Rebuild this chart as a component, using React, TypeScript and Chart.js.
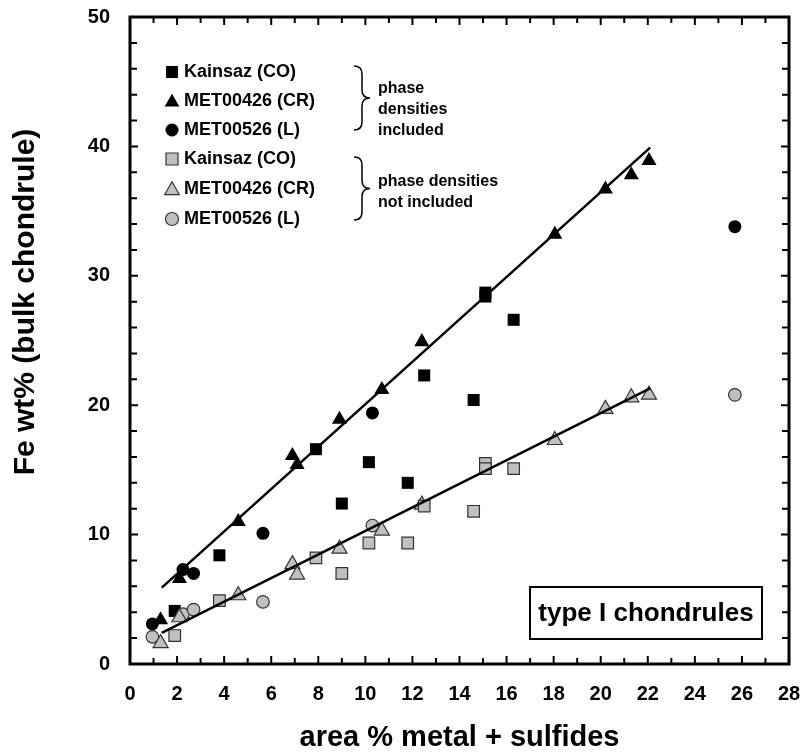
import React, { useEffect, useRef } from 'react';
import { Chart, registerables } from 'chart.js';
Chart.register(...registerables);

// ---- data ----
const kainsazX = [1.9, 3.8, 7.9, 9.0, 10.15, 11.8, 12.5, 14.6, 15.1, 15.1, 16.3];
const kainsazIncl = [4.1, 8.4, 16.6, 12.4, 15.6, 14.0, 22.3, 20.4, 28.7, 28.4, 26.6];
const kainsazNot = [2.2, 4.9, 8.2, 7.0, 9.35, 9.35, 12.2, 11.8, 15.5, 15.1, 15.1];

const met426X = [1.3, 2.1, 4.6, 6.9, 7.1, 8.9, 10.7, 12.4, 18.05, 20.2, 21.3, 22.05];
const met426Incl = [3.4, 6.6, 11.0, 16.1, 15.4, 18.9, 21.2, 24.9, 33.2, 36.7, 37.8, 38.9];
const met426Not = [1.6, 3.6, 5.3, 7.7, 6.9, 8.9, 10.3, 12.3, 17.3, 19.7, 20.6, 20.8];

const met526X = [0.95, 2.25, 2.7, 5.65, 10.3, 25.7];
const met526Incl = [3.1, 7.3, 7.0, 10.1, 19.4, 33.8];
const met526Not = [2.1, 3.85, 4.2, 4.8, 10.7, 20.8];

const fitX = [1.35, 22.1];
const fitInclY = [5.9, 39.9];
const fitNotY = [2.4, 21.3];

const seriesNames = ['Kainsaz (CO)', 'MET00426 (CR)', 'MET00526 (L)'];
const groupNotes = [
  ['phase', 'densities', 'included'],
  ['phase densities', 'not included'],
];
const boxLabel = 'type I chondrules';
const xTitle = 'area % metal + sulfides';
const yTitle = 'Fe wt% (bulk chondrule)';
const xMin = 0, xMax = 28, xStep = 2;
const yMin = 0, yMax = 50, yStep = 10;

const FONT = "'Liberation Sans', Arial, Helvetica, sans-serif";
const GRAY = '#c0c0c0';
const GRAY_EDGE = '#333333';

const pts = (xs: number[], ys: number[]) => xs.map((x, i) => ({ x, y: ys[i] }));

function drawMarker(ctx: CanvasRenderingContext2D, style: string, x: number, y: number, fill: string, stroke: string | null) {
  ctx.save();
  ctx.beginPath();
  if (style === 'rect') {
    const s = 6;
    ctx.rect(x - s, y - s, 2 * s, 2 * s);
  } else if (style === 'triangle') {
    const r = 8.5;
    ctx.moveTo(x, y - r * 0.85);
    ctx.lineTo(x + r * 0.866, y + r * 0.65);
    ctx.lineTo(x - r * 0.866, y + r * 0.65);
    ctx.closePath();
  } else {
    ctx.arc(x, y, 6.5, 0, Math.PI * 2);
  }
  ctx.fillStyle = fill;
  ctx.fill();
  if (stroke) {
    ctx.strokeStyle = stroke;
    ctx.lineWidth = 1.2;
    ctx.stroke();
  }
  ctx.restore();
}

function drawBrace(ctx: CanvasRenderingContext2D, x: number, y1: number, y2: number) {
  const ym = (y1 + y2) / 2;
  const w = 8;
  ctx.save();
  ctx.strokeStyle = '#000';
  ctx.lineWidth = 1.5;
  ctx.beginPath();
  ctx.moveTo(x - w, y1);
  ctx.quadraticCurveTo(x, y1, x, y1 + w);
  ctx.lineTo(x, ym - w);
  ctx.quadraticCurveTo(x, ym, x + w, ym);
  ctx.quadraticCurveTo(x, ym, x, ym + w);
  ctx.lineTo(x, y2 - w);
  ctx.quadraticCurveTo(x, y2, x - w, y2);
  ctx.stroke();
  ctx.restore();
}

const decorPlugin = {
  id: 'decor',
  afterDatasetsDraw(chart: any) {
    const ctx: CanvasRenderingContext2D = chart.ctx;
    const { left, right, top, bottom } = chart.chartArea;
    const xs = chart.scales.x;
    const ys = chart.scales.y;
    ctx.save();
    // frame
    ctx.strokeStyle = '#000';
    ctx.lineWidth = 3;
    ctx.strokeRect(left, top, right - left, bottom - top);
    // ticks inward
    ctx.lineWidth = 2;
    ctx.beginPath();
    for (let v = xMin + 1; v < xMax; v += 1) {
      const px = xs.getPixelForValue(v);
      const len = v % 2 === 0 ? 8 : 6;
      ctx.moveTo(px, bottom);
      ctx.lineTo(px, bottom - len);
      ctx.moveTo(px, top);
      ctx.lineTo(px, top + len);
    }
    for (let v = yMin + 2; v < yMax; v += 2) {
      const py = ys.getPixelForValue(v);
      const len = v % 10 === 0 ? 8 : 7;
      ctx.moveTo(left, py);
      ctx.lineTo(left + len, py);
      ctx.moveTo(right, py);
      ctx.lineTo(right - len, py);
    }
    ctx.stroke();

    // legend
    const styles = ['rect', 'triangle', 'circle'];
    const rowY = [72, 101, 130, 159, 189, 219];
    ctx.font = `bold 18px ${FONT}`;
    ctx.textBaseline = 'middle';
    ctx.textAlign = 'left';
    ctx.fillStyle = '#000';
    for (let g = 0; g < 2; g++) {
      for (let i = 0; i < 3; i++) {
        const y = rowY[g * 3 + i];
        drawMarker(ctx, styles[i], 172, y, g === 0 ? '#000' : GRAY, g === 0 ? null : GRAY_EDGE);
        ctx.fillStyle = '#000';
        ctx.fillText(seriesNames[i], 184, y);
      }
    }
    drawBrace(ctx, 362, 66, 130);
    drawBrace(ctx, 362, 157, 220);
    ctx.font = `bold 16px ${FONT}`;
    ctx.fillText(groupNotes[0][0], 378, 89);
    ctx.fillText(groupNotes[0][1], 378, 110);
    ctx.fillText(groupNotes[0][2], 378, 131);
    ctx.fillText(groupNotes[1][0], 378, 182);
    ctx.fillText(groupNotes[1][1], 378, 203);

    // type I box
    ctx.lineWidth = 2;
    ctx.strokeRect(530, 587, 232, 52);
    ctx.font = `bold 26px ${FONT}`;
    ctx.textAlign = 'center';
    ctx.fillText(boxLabel, 646, 614);

    // axis titles
    ctx.font = `bold 29px ${FONT}`;
    ctx.textAlign = 'center';
    ctx.fillText(xTitle, (left + right) / 2, 738);
    ctx.save();
    ctx.translate(26, 302);
    ctx.rotate(-Math.PI / 2);
    ctx.font = `bold 30px ${FONT}`;
    ctx.fillText(yTitle, 0, 0);
    ctx.restore();
    ctx.restore();
  },
};

export default function App() {
  const ref = useRef<HTMLCanvasElement | null>(null);
  useEffect(() => {
    if (!ref.current) return;
    const black = (label: string, style: string, data: any[], r: number) => ({
      label, data, pointStyle: style, pointRadius: r, pointHoverRadius: r,
      backgroundColor: '#000', borderColor: '#000', borderWidth: 0, showLine: false, order: 3,
    });
    const gray = (label: string, style: string, data: any[], r: number) => ({
      label, data, pointStyle: style, pointRadius: r, pointHoverRadius: r,
      backgroundColor: GRAY, borderColor: GRAY_EDGE, borderWidth: 1.2, showLine: false, order: 2,
    });
    const chart = new Chart(ref.current, {
      type: 'scatter',
      data: {
        datasets: [
          black(seriesNames[0], 'rect', pts(kainsazX, kainsazIncl), 8.5),
          black(seriesNames[1], 'triangle', pts(met426X, met426Incl), 8.7),
          black(seriesNames[2], 'circle', pts(met526X, met526Incl), 6.5),
          gray(seriesNames[0] + ' ', 'rect', pts(kainsazX, kainsazNot), 8.2),
          gray(seriesNames[1] + ' ', 'triangle', pts(met426X, met426Not), 8.7),
          gray(seriesNames[2] + ' ', 'circle', pts(met526X, met526Not), 6.3),
          {
            label: 'fit included', data: pts(fitX, fitInclY), showLine: true, borderColor: '#000',
            borderWidth: 2.5, pointRadius: 0, pointHoverRadius: 0, order: 1,
          } as any,
          {
            label: 'fit not included', data: pts(fitX, fitNotY), showLine: true, borderColor: '#000',
            borderWidth: 2.5, pointRadius: 0, pointHoverRadius: 0, order: 1,
          } as any,
        ],
      },
      options: {
        animation: false,
        responsive: false,
        maintainAspectRatio: false,
        layout: { padding: { left: 8, right: 13, top: 17, bottom: 0 } },
        plugins: { legend: { display: false }, tooltip: { enabled: false } },
        scales: {
          x: {
            type: 'linear', min: xMin, max: xMax,
            grid: { display: false, drawTicks: false },
            border: { display: false },
            ticks: { stepSize: xStep, color: '#000', font: { family: FONT, size: 20, weight: 'bold' }, padding: 18, maxRotation: 0 },
            afterFit: (s: any) => { s.height = 92; s.paddingLeft = 0; s.paddingRight = 0; },
          },
          y: {
            type: 'linear', min: yMin, max: yMax,
            grid: { display: false, drawTicks: false },
            border: { display: false },
            ticks: { stepSize: yStep, color: '#000', font: { family: FONT, size: 20, weight: 'bold' }, padding: 20 },
            afterFit: (s: any) => { s.width = 122; s.paddingTop = 0; s.paddingBottom = 0; },
          },
        },
      } as any,
      plugins: [decorPlugin],
    });
    return () => chart.destroy();
  }, []);
  return (
    <div style={{ position: 'fixed', left: 0, top: 0, width: 802, height: 756, background: '#fff' }}>
      <canvas ref={ref} width={802} height={756} style={{ width: 802, height: 756, display: 'block' }} />
    </div>
  );
}
